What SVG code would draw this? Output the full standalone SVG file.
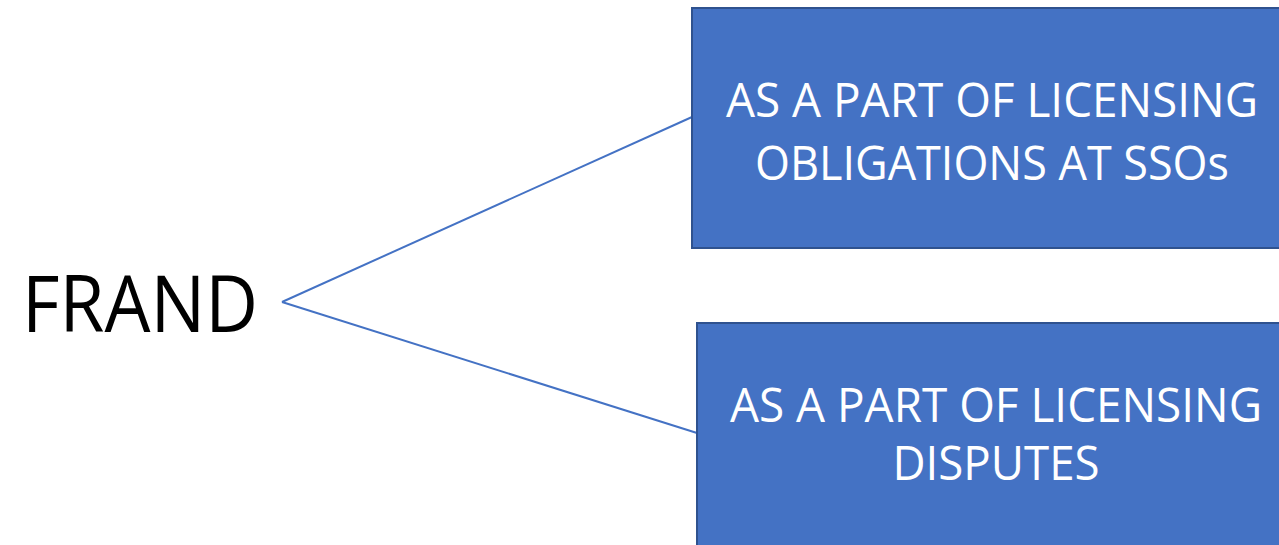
<svg xmlns="http://www.w3.org/2000/svg" width="1279" height="545" viewBox="0 0 1279 545">
<style>
.box{fill:#4472C4;stroke:#2F528F;stroke-width:2}
.lbl{font-family:"Open Sans","Liberation Sans",sans-serif;font-size:48px;fill:#fff;text-anchor:middle}
.conn{stroke:#4472C4;stroke-width:2;fill:none}
</style>
<rect width="1279" height="545" fill="#fff"/>
<g id="frand">
<text x="22" y="332" font-family="Open Sans, Liberation Sans, sans-serif" font-size="78" fill="#000" textLength="236" lengthAdjust="spacingAndGlyphs">FRAND</text>
</g>
<g id="connectors">
<path class="conn" d="M282 302 L692 117"/>
<path class="conn" d="M282 302 L697 433"/>
</g>
<g id="box1">
<rect class="box" x="692" y="8" width="592" height="240"/>
<text class="lbl" x="992" y="117" textLength="532" lengthAdjust="spacingAndGlyphs">AS A PART OF LICENSING</text>
<text class="lbl" x="992" y="180" textLength="474" lengthAdjust="spacingAndGlyphs">OBLIGATIONS AT SSOs</text>
</g>
<g id="box2">
<rect class="box" x="697" y="323" width="587" height="230"/>
<text class="lbl" x="996" y="422" textLength="532" lengthAdjust="spacingAndGlyphs">AS A PART OF LICENSING</text>
<text class="lbl" x="996" y="480" textLength="207" lengthAdjust="spacingAndGlyphs">DISPUTES</text>
</g>
</svg>
